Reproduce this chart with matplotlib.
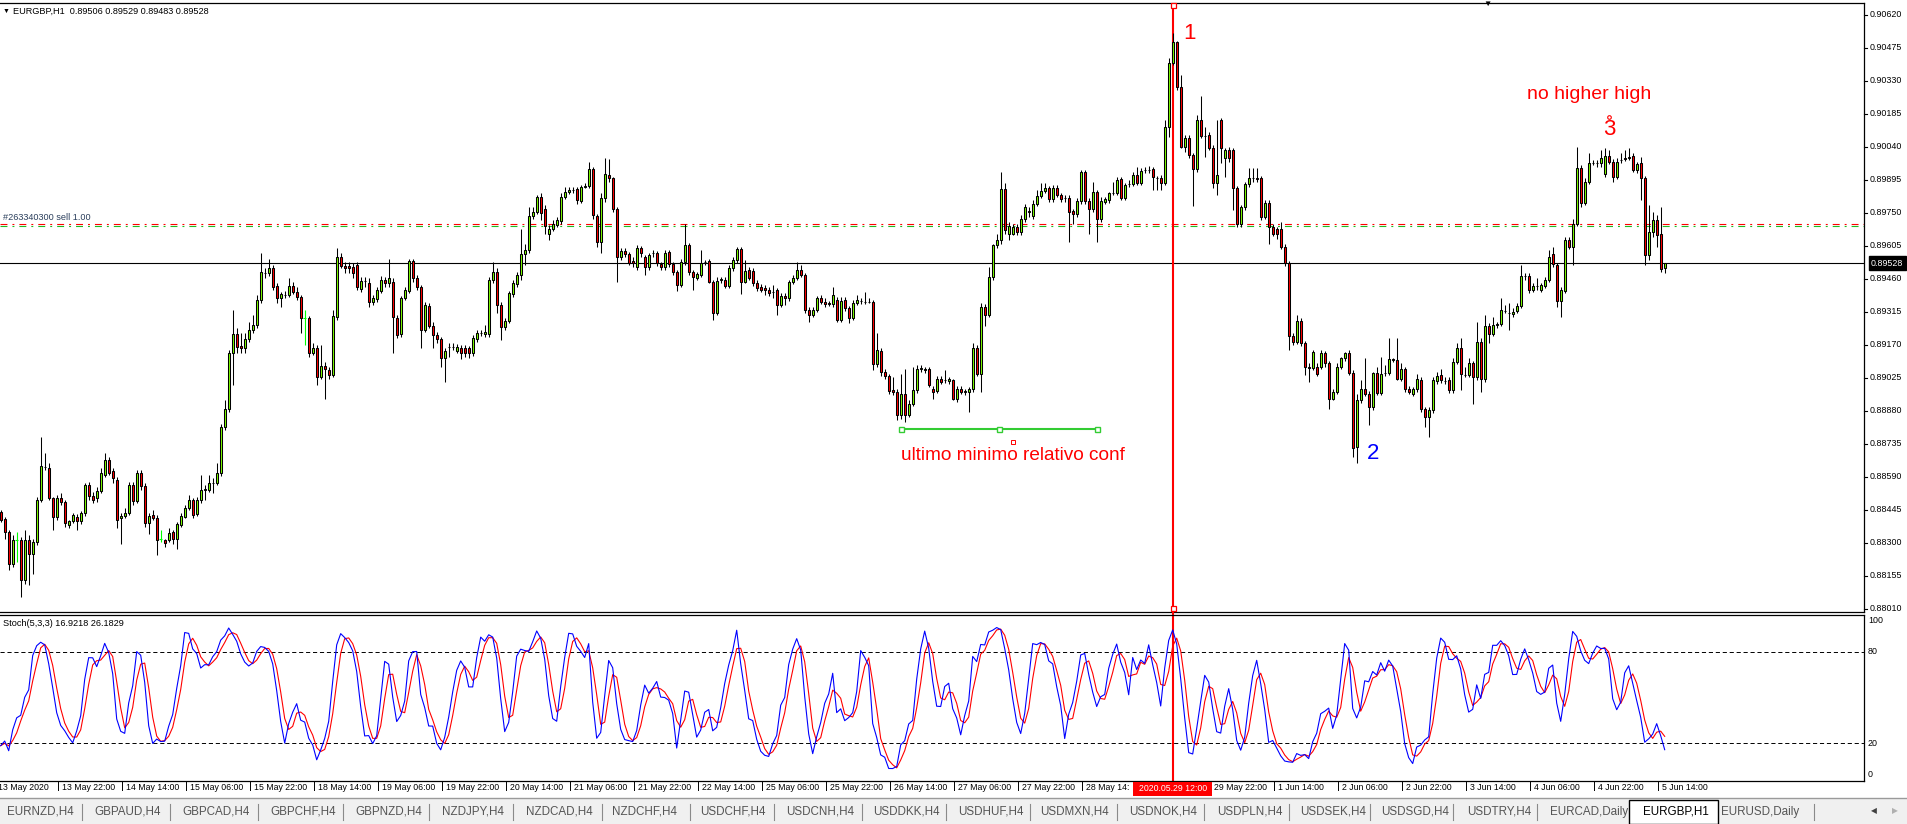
import numpy as np
import pandas as pd
import matplotlib
matplotlib.use("Agg")
import matplotlib.pyplot as plt
import matplotlib.transforms as mtrans
from matplotlib.patches import Rectangle
from matplotlib.lines import Line2D

plt.rcParams["font.family"] = ["Liberation Sans", "DejaVu Sans"]
plt.rcParams["lines.scale_dashes"] = False

# ---------------- EURGBP H1 candles, 13 May 07:00 .. 5 Jun 15:00 ----------------
opens = [
 0.88435,0.88403,0.88347,0.88208,0.88311,0.88311,0.88135,0.88311,0.88252,0.88303,
 0.88489,0.88633,0.88626,0.88494,0.88413,0.88494,0.88479,0.88376,0.88394,0.88413,
 0.88396,0.88428,0.88552,0.88504,0.88494,0.88526,0.88599,0.88665,0.88614,0.88577,
 0.88406,0.88419,0.88431,0.88552,0.88484,0.88608,0.88548,0.88384,0.88420,0.88410,
 0.88314,0.88311,0.88311,0.88347,0.88315,0.88376,0.88413,0.88454,0.88486,0.88425,
 0.88486,0.88533,0.88533,0.88563,0.88563,0.88604,0.88806,0.88889,0.89131,0.89215,
 0.89163,0.89153,0.89193,0.89234,0.89256,0.89365,0.89483,0.89483,0.89505,0.89428,
 0.89373,0.89387,0.89387,0.89428,0.89402,0.89377,0.89285,0.89285,0.89135,0.89157,
 0.89028,0.89077,0.89058,0.89036,0.89292,0.89553,0.89516,0.89515,0.89512,0.89518,
 0.89415,0.89449,0.89442,0.89358,0.89371,0.89406,0.89456,0.89439,0.89446,0.89289,
 0.89215,0.89373,0.89406,0.89538,0.89461,0.89424,0.89236,0.89339,0.89253,0.89212,
 0.89193,0.89113,0.89160,0.89160,0.89143,0.89157,0.89157,0.89157,0.89131,0.89193,
 0.89219,0.89216,0.89216,0.89453,0.89490,0.89343,0.89248,0.89275,0.89392,0.89436,
 0.89475,0.89566,0.89585,0.89735,0.89754,0.89817,0.89765,0.89658,0.89680,0.89695,
 0.89714,0.89820,0.89839,0.89849,0.89852,0.89802,0.89861,0.89868,0.89941,0.89735,
 0.89622,0.89812,0.89915,0.89900,0.89764,0.89556,0.89581,0.89566,0.89538,0.89512,
 0.89593,0.89553,0.89512,0.89571,0.89571,0.89524,0.89512,0.89575,0.89524,0.89487,
 0.89431,0.89534,0.89606,0.89487,0.89461,0.89475,0.89534,0.89537,0.89446,0.89310,
 0.89456,0.89456,0.89428,0.89505,0.89541,0.89588,0.89446,0.89497,0.89494,0.89439,
 0.89424,0.89417,0.89409,0.89402,0.89409,0.89343,0.89383,0.89373,0.89443,0.89461,
 0.89500,0.89475,0.89324,0.89302,0.89324,0.89373,0.89358,0.89351,0.89348,0.89365,
 0.89280,0.89365,0.89329,0.89285,0.89354,0.89361,0.89358,0.89358,0.89358,0.89083,
 0.89141,0.89050,0.89031,0.88970,0.88963,0.88860,0.88955,0.88860,0.88911,0.88970,
 0.89065,0.89058,0.89065,0.88977,0.88967,0.89021,0.89014,0.89011,0.89014,0.88929,
 0.88977,0.88963,0.88960,0.88973,0.89157,0.89043,0.89336,0.89302,0.89468,0.89606,
 0.89629,0.89852,0.89658,0.89658,0.89688,0.89663,0.89723,0.89754,0.89735,0.89790,
 0.89823,0.89846,0.89856,0.89808,0.89856,0.89827,0.89812,0.89815,0.89757,0.89742,
 0.89802,0.89928,0.89802,0.89764,0.89839,0.89720,0.89798,0.89805,0.89837,0.89837,
 0.89896,0.89812,0.89875,0.89875,0.89915,0.89878,0.89937,0.89937,0.89941,0.89900,
 0.89900,0.89881,0.90124,0.90408,0.90498,0.90303,0.90039,0.90080,0.90003,0.89940,
 0.90159,0.90088,0.90091,0.90036,0.89878,0.90157,0.89988,0.90025,0.90025,0.89856,
 0.89699,0.89773,0.89875,0.89900,0.89900,0.89900,0.89729,0.89793,0.89688,0.89676,
 0.89676,0.89600,0.89527,0.89207,0.89182,0.89275,0.89175,0.89072,0.89068,0.89072,
 0.89072,0.89131,0.89087,0.88929,0.88963,0.89072,0.89109,0.89134,0.89046,0.88718,
 0.88926,0.88973,0.88955,0.88894,0.89046,0.88958,0.89046,0.89046,0.89105,0.89102,
 0.89021,0.89061,0.88977,0.88952,0.88973,0.89014,0.88885,0.88853,0.88882,0.89009,
 0.89036,0.89011,0.89014,0.88970,0.89094,0.89157,0.89036,0.89036,0.89087,0.89026,
 0.89182,0.89021,0.89251,0.89216,0.89258,0.89260,0.89318,0.89310,0.89304,0.89318,
 0.89339,0.89471,0.89471,0.89412,0.89427,0.89412,0.89427,0.89456,0.89566,0.89519,
 0.89362,0.89406,0.89629,0.89600,0.89702,0.89948,0.89793,0.89885,0.89969,0.89969,
 0.89966,0.89919,0.89998,0.89973,0.89907,0.89981,0.89988,0.89992,0.89998,0.89937,
 0.89966,0.89900,0.89562,0.89664,0.89717,0.89655,0.89506]
highs = [
 0.88445,0.88413,0.88357,0.88333,0.88347,0.88325,0.88355,0.88333,0.88318,0.88501,
 0.88765,0.88692,0.88651,0.88501,0.88508,0.88519,0.88486,0.88401,0.88431,0.88425,
 0.88439,0.88563,0.88567,0.88523,0.88545,0.88626,0.88692,0.88677,0.88626,0.88589,
 0.88428,0.88450,0.88567,0.88567,0.88618,0.88618,0.88560,0.88428,0.88443,0.88420,
 0.88355,0.88318,0.88362,0.88357,0.88391,0.88431,0.88464,0.88508,0.88498,0.88501,
 0.88596,0.88552,0.88596,0.88582,0.88648,0.88820,0.88926,0.89146,0.89321,0.89241,
 0.89219,0.89219,0.89270,0.89300,0.89387,0.89571,0.89505,0.89548,0.89519,0.89439,
 0.89402,0.89406,0.89461,0.89446,0.89424,0.89387,0.89321,0.89295,0.89175,0.89168,
 0.89168,0.89094,0.89072,0.89321,0.89593,0.89571,0.89534,0.89534,0.89527,0.89534,
 0.89468,0.89468,0.89461,0.89387,0.89424,0.89471,0.89468,0.89548,0.89461,0.89300,
 0.89383,0.89424,0.89548,0.89548,0.89475,0.89431,0.89358,0.89351,0.89270,0.89226,
 0.89204,0.89153,0.89178,0.89178,0.89172,0.89168,0.89168,0.89163,0.89212,0.89234,
 0.89234,0.89256,0.89468,0.89534,0.89505,0.89358,0.89285,0.89406,0.89453,0.89490,
 0.89680,0.89614,0.89776,0.89776,0.89827,0.89834,0.89783,0.89695,0.89717,0.89732,
 0.89834,0.89864,0.89864,0.89861,0.89864,0.89871,0.89878,0.89973,0.89951,0.89746,
 0.89834,0.89988,0.89984,0.89907,0.89776,0.89593,0.89593,0.89578,0.89553,0.89607,
 0.89603,0.89563,0.89573,0.89585,0.89582,0.89534,0.89585,0.89585,0.89534,0.89497,
 0.89548,0.89699,0.89617,0.89497,0.89490,0.89585,0.89541,0.89548,0.89453,0.89468,
 0.89468,0.89468,0.89519,0.89556,0.89600,0.89597,0.89541,0.89509,0.89505,0.89453,
 0.89436,0.89431,0.89421,0.89431,0.89417,0.89395,0.89395,0.89456,0.89475,0.89534,
 0.89519,0.89486,0.89336,0.89336,0.89383,0.89387,0.89373,0.89362,0.89424,0.89377,
 0.89377,0.89377,0.89339,0.89365,0.89387,0.89373,0.89402,0.89373,0.89368,0.89219,
 0.89153,0.89061,0.89043,0.89028,0.88973,0.89043,0.89065,0.88926,0.89072,0.89080,
 0.89080,0.89072,0.89072,0.88987,0.89031,0.89031,0.89058,0.89026,0.89021,0.88987,
 0.88987,0.88977,0.88985,0.89175,0.89168,0.89351,0.89348,0.89512,0.89614,0.89658,
 0.89929,0.89878,0.89710,0.89699,0.89699,0.89739,0.89790,0.89776,0.89805,0.89849,
 0.89878,0.89878,0.89866,0.89871,0.89871,0.89837,0.89827,0.89827,0.89768,0.89812,
 0.89937,0.89937,0.89812,0.89885,0.89849,0.89820,0.89820,0.89842,0.89885,0.89907,
 0.89907,0.89881,0.89893,0.89929,0.89951,0.89944,0.89951,0.89954,0.89951,0.89910,
 0.89915,0.90157,0.90428,0.90537,0.90505,0.90354,0.90091,0.90091,0.90013,0.90181,
 0.90262,0.90124,0.90105,0.90047,0.90157,0.90164,0.90032,0.90039,0.90032,0.89866,
 0.89783,0.89885,0.89944,0.89944,0.89944,0.89910,0.89805,0.89805,0.89699,0.89688,
 0.89710,0.89612,0.89538,0.89219,0.89300,0.89285,0.89187,0.89087,0.89146,0.89087,
 0.89146,0.89143,0.89099,0.88977,0.89087,0.89116,0.89138,0.89146,0.89058,0.88955,
 0.89014,0.89109,0.88967,0.89050,0.89072,0.89116,0.89080,0.89197,0.89109,0.89197,
 0.89087,0.89072,0.88987,0.88985,0.89040,0.89026,0.88897,0.88894,0.89026,0.89050,
 0.89065,0.89028,0.89026,0.89109,0.89175,0.89197,0.89072,0.89109,0.89099,0.89270,
 0.89197,0.89300,0.89263,0.89292,0.89270,0.89373,0.89343,0.89351,0.89329,0.89351,
 0.89519,0.89483,0.89483,0.89439,0.89461,0.89442,0.89468,0.89585,0.89600,0.89530,
 0.89424,0.89644,0.89641,0.89720,0.90039,0.89959,0.89900,0.90010,0.89981,0.89981,
 0.90025,0.90032,0.90025,0.89984,0.89988,0.90010,0.90025,0.90032,0.90010,0.89973,
 0.89995,0.89910,0.89783,0.89754,0.89739,0.89776,0.89529]
lows = [
 0.88391,0.88318,0.88179,0.88193,0.88215,0.88059,0.88120,0.88113,0.88164,0.88289,
 0.88479,0.88618,0.88486,0.88357,0.88401,0.88464,0.88369,0.88362,0.88384,0.88355,
 0.88381,0.88416,0.88486,0.88472,0.88479,0.88516,0.88589,0.88596,0.88560,0.88366,
 0.88296,0.88406,0.88420,0.88464,0.88472,0.88533,0.88369,0.88340,0.88398,0.88245,
 0.88303,0.88281,0.88303,0.88296,0.88274,0.88369,0.88406,0.88443,0.88410,0.88416,
 0.88475,0.88486,0.88523,0.88516,0.88552,0.88592,0.88794,0.88875,0.88992,0.89131,
 0.89131,0.89134,0.89182,0.89219,0.89241,0.89351,0.89461,0.89471,0.89409,0.89351,
 0.89336,0.89373,0.89377,0.89392,0.89365,0.89219,0.89168,0.89116,0.89124,0.88992,
 0.89017,0.88929,0.89021,0.89026,0.89278,0.89505,0.89483,0.89483,0.89461,0.89409,
 0.89402,0.89424,0.89336,0.89343,0.89358,0.89395,0.89424,0.89424,0.89134,0.89197,
 0.89204,0.89365,0.89395,0.89446,0.89409,0.89153,0.89226,0.89241,0.89153,0.89178,
 0.89072,0.89006,0.89116,0.89146,0.89131,0.89105,0.89116,0.89109,0.89119,0.89182,
 0.89207,0.89204,0.89204,0.89439,0.89307,0.89190,0.89236,0.89263,0.89380,0.89424,
 0.89453,0.89519,0.89571,0.89720,0.89743,0.89717,0.89658,0.89629,0.89670,0.89688,
 0.89702,0.89808,0.89831,0.89837,0.89790,0.89793,0.89856,0.89856,0.89724,0.89600,
 0.89571,0.89798,0.89885,0.89754,0.89446,0.89541,0.89553,0.89519,0.89512,0.89500,
 0.89556,0.89475,0.89500,0.89553,0.89515,0.89497,0.89500,0.89512,0.89475,0.89406,
 0.89424,0.89519,0.89475,0.89409,0.89453,0.89465,0.89519,0.89439,0.89278,0.89300,
 0.89439,0.89417,0.89417,0.89494,0.89530,0.89392,0.89439,0.89453,0.89427,0.89406,
 0.89402,0.89387,0.89383,0.89373,0.89300,0.89336,0.89343,0.89362,0.89436,0.89453,
 0.89465,0.89310,0.89270,0.89292,0.89314,0.89348,0.89336,0.89339,0.89336,0.89270,
 0.89270,0.89318,0.89263,0.89278,0.89343,0.89348,0.89348,0.89351,0.89058,0.89072,
 0.89031,0.89021,0.88955,0.88948,0.88838,0.88841,0.88831,0.88850,0.88900,0.88958,
 0.89050,0.89046,0.88985,0.88933,0.88958,0.88996,0.89002,0.88999,0.88926,0.88919,
 0.88952,0.88948,0.88875,0.88963,0.89031,0.88963,0.89251,0.89292,0.89456,0.89593,
 0.89614,0.89658,0.89629,0.89651,0.89651,0.89651,0.89710,0.89732,0.89724,0.89779,
 0.89812,0.89834,0.89798,0.89798,0.89820,0.89798,0.89798,0.89622,0.89702,0.89732,
 0.89790,0.89790,0.89658,0.89754,0.89622,0.89710,0.89787,0.89793,0.89827,0.89827,
 0.89805,0.89805,0.89864,0.89866,0.89871,0.89871,0.89925,0.89922,0.89849,0.89849,
 0.89849,0.89871,0.90083,0.90398,0.90288,0.90032,0.90017,0.89992,0.89780,0.89929,
 0.90076,0.89995,0.90025,0.89856,0.89827,0.89966,0.89907,0.89973,0.89761,0.89688,
 0.89688,0.89761,0.89864,0.89885,0.89885,0.89717,0.89720,0.89614,0.89647,0.89636,
 0.89588,0.89515,0.89146,0.89168,0.89172,0.89163,0.89036,0.89006,0.89058,0.89031,
 0.89061,0.89072,0.88889,0.88926,0.88952,0.89061,0.89099,0.89036,0.88677,0.88648,
 0.88914,0.88944,0.88816,0.88882,0.88948,0.88948,0.89031,0.89036,0.89094,0.89014,
 0.89011,0.88963,0.88952,0.88944,0.88963,0.88875,0.88809,0.88765,0.88870,0.88999,
 0.89002,0.88999,0.88958,0.88958,0.89084,0.88970,0.89026,0.89026,0.88911,0.89014,
 0.88963,0.89006,0.89178,0.89207,0.89241,0.89251,0.89307,0.89234,0.89292,0.89307,
 0.89329,0.89453,0.89395,0.89402,0.89412,0.89402,0.89417,0.89446,0.89512,0.89336,
 0.89292,0.89395,0.89588,0.89519,0.89691,0.89776,0.89783,0.89875,0.89959,0.89951,
 0.89951,0.89907,0.89963,0.89885,0.89896,0.89969,0.89978,0.89981,0.89929,0.89925,
 0.89805,0.89519,0.89541,0.89644,0.89600,0.89490,0.89483]
closes = [
 0.88401,0.88347,0.88208,0.88311,0.88311,0.88135,0.88311,0.88252,0.88303,0.88489,
 0.88636,0.88634,0.88494,0.88413,0.88498,0.88479,0.88387,0.88394,0.88420,0.88396,
 0.88428,0.88552,0.88504,0.88489,0.88526,0.88607,0.88662,0.88607,0.88582,0.88401,
 0.88419,0.88431,0.88552,0.88484,0.88608,0.88548,0.88384,0.88416,0.88410,0.88311,
 0.88314,0.88300,0.88343,0.88314,0.88381,0.88416,0.88454,0.88486,0.88420,0.88489,
 0.88530,0.88534,0.88563,0.88562,0.88607,0.88809,0.88889,0.89131,0.89215,0.89160,
 0.89153,0.89193,0.89234,0.89256,0.89368,0.89490,0.89484,0.89505,0.89424,0.89373,
 0.89392,0.89388,0.89428,0.89402,0.89377,0.89285,0.89285,0.89135,0.89157,0.89028,
 0.89077,0.89061,0.89036,0.89297,0.89553,0.89515,0.89505,0.89505,0.89486,0.89421,
 0.89450,0.89448,0.89358,0.89373,0.89409,0.89456,0.89439,0.89461,0.89292,0.89212,
 0.89373,0.89409,0.89538,0.89461,0.89424,0.89236,0.89342,0.89253,0.89212,0.89193,
 0.89113,0.89143,0.89161,0.89159,0.89160,0.89135,0.89131,0.89131,0.89197,0.89222,
 0.89223,0.89226,0.89453,0.89490,0.89343,0.89248,0.89275,0.89395,0.89439,0.89475,
 0.89566,0.89585,0.89735,0.89754,0.89817,0.89749,0.89691,0.89680,0.89702,0.89717,
 0.89820,0.89842,0.89849,0.89850,0.89805,0.89861,0.89868,0.89941,0.89739,0.89622,
 0.89812,0.89918,0.89900,0.89764,0.89556,0.89581,0.89566,0.89527,0.89527,0.89593,
 0.89571,0.89512,0.89563,0.89572,0.89527,0.89512,0.89571,0.89524,0.89487,0.89431,
 0.89534,0.89606,0.89487,0.89465,0.89480,0.89530,0.89535,0.89446,0.89310,0.89450,
 0.89457,0.89428,0.89505,0.89541,0.89588,0.89446,0.89494,0.89461,0.89439,0.89417,
 0.89412,0.89409,0.89395,0.89403,0.89343,0.89383,0.89373,0.89443,0.89461,0.89500,
 0.89475,0.89324,0.89302,0.89324,0.89373,0.89358,0.89348,0.89350,0.89390,0.89280,
 0.89362,0.89329,0.89285,0.89354,0.89365,0.89362,0.89357,0.89359,0.89083,0.89146,
 0.89050,0.89031,0.88967,0.88963,0.88860,0.88955,0.88860,0.88911,0.88970,0.89061,
 0.89066,0.89065,0.88992,0.88963,0.89021,0.89006,0.89015,0.89017,0.88929,0.88977,
 0.88963,0.88964,0.88973,0.89157,0.89043,0.89336,0.89302,0.89468,0.89606,0.89629,
 0.89852,0.89673,0.89691,0.89688,0.89663,0.89723,0.89773,0.89755,0.89790,0.89823,
 0.89846,0.89856,0.89808,0.89856,0.89827,0.89808,0.89813,0.89754,0.89742,0.89802,
 0.89928,0.89802,0.89764,0.89839,0.89720,0.89802,0.89808,0.89837,0.89838,0.89893,
 0.89812,0.89871,0.89876,0.89915,0.89878,0.89932,0.89938,0.89936,0.89905,0.89901,
 0.89881,0.90124,0.90408,0.90498,0.90303,0.90039,0.90080,0.90003,0.89940,0.90159,
 0.90086,0.90087,0.90036,0.89878,0.89915,0.90032,0.90025,0.89988,0.89856,0.89699,
 0.89773,0.89875,0.89900,0.89901,0.89899,0.89729,0.89793,0.89688,0.89658,0.89658,
 0.89600,0.89527,0.89207,0.89182,0.89275,0.89175,0.89072,0.89068,0.89138,0.89043,
 0.89134,0.89087,0.88929,0.88963,0.89072,0.89109,0.89134,0.89046,0.88714,0.88926,
 0.88973,0.88955,0.88894,0.89046,0.88958,0.89043,0.89047,0.89105,0.89104,0.89021,
 0.89061,0.88973,0.88963,0.88973,0.89017,0.88885,0.88853,0.88882,0.89014,0.89031,
 0.89014,0.89012,0.88970,0.89094,0.89157,0.89040,0.89037,0.89087,0.89026,0.89182,
 0.89021,0.89251,0.89216,0.89256,0.89259,0.89324,0.89319,0.89311,0.89314,0.89339,
 0.89471,0.89472,0.89412,0.89427,0.89428,0.89431,0.89456,0.89553,0.89524,0.89362,
 0.89409,0.89629,0.89600,0.89702,0.89948,0.89793,0.89885,0.89970,0.89970,0.89968,
 0.89988,0.89998,0.89973,0.89907,0.89973,0.89982,0.89987,0.89993,0.89937,0.89963,
 0.89900,0.89562,0.89664,0.89717,0.89651,0.89503,0.89528]

price_ticks = [0.90620, 0.90475, 0.90330, 0.90185, 0.90040, 0.89895, 0.89750,
               0.89605, 0.89460, 0.89315, 0.89170, 0.89025, 0.88880, 0.88735,
               0.88590, 0.88445, 0.88300, 0.88155, 0.88010]
stoch_ticks = [100, 80, 20, 0]
stoch_levels = [80, 20]
bid_price = 0.89528
order_red = 0.89700
order_green = 0.89691
support_price = 0.88797
support_from, support_to = "2020-05-26 16:00", "2020-05-28 17:00"
vline_time = "2020-05-29 12:00"
header_txt = "EURGBP,H1  0.89506 0.89529 0.89483 0.89528"
stoch_txt = "Stoch(5,3,3) 16.9218 26.1829"
order_txt = "#263340300 sell 1.00"
tabs = ["EURNZD,H4", "GBPAUD,H4", "GBPCAD,H4", "GBPCHF,H4", "GBPNZD,H4",
        "NZDJPY,H4", "NZDCAD,H4", "NZDCHF,H4", "USDCHF,H4", "USDCNH,H4",
        "USDDKK,H4", "USDHUF,H4", "USDMXN,H4", "USDNOK,H4", "USDPLN,H4",
        "USDSEK,H4", "USDSGD,H4", "USDTRY,H4", "EURCAD,Daily", "EURGBP,H1",
        "EURUSD,Daily"]
active_tab = "EURGBP,H1"

# ---------------- prep ----------------
times = pd.date_range("2020-05-13 07:00", "2020-06-05 15:00", freq="h")
times = times[times.dayofweek < 5]
O, Hh, L, C = map(np.array, (opens, highs, lows, closes))
N = len(C)
x = np.arange(N)
pos = {t: i for i, t in enumerate(times)}

# Stochastic(5,3,3) on Low/High, SMA
lo5 = pd.Series(L).rolling(5, min_periods=1).min()
hi5 = pd.Series(Hh).rolling(5, min_periods=1).max()
num = (pd.Series(C) - lo5).rolling(3, min_periods=1).sum()
den = (hi5 - lo5).rolling(3, min_periods=1).sum()
k_line = 100 * num / den
d_line = k_line.rolling(3, min_periods=1).mean()

# ---------------- layout (pixel based, 1908x824) ----------------
W, HP = 1908, 824
fig = plt.figure(figsize=(W / 100, HP / 100), dpi=100)
fig.patch.set_facecolor("white")
fx = lambda p: p / W
fy = lambda p: 1 - p / HP
RIGHT = 1864
MAIN_T, MAIN_B = 3, 612
ST_T, ST_B = 615, 781

ax = fig.add_axes([0, fy(MAIN_B), fx(RIGHT), (MAIN_B - MAIN_T) / HP])
ax2 = fig.add_axes([0, fy(ST_B), fx(RIGHT), (ST_B - ST_T) / HP])

px_per_bar = 4.0
x0 = -0.7 / px_per_bar
xlim = (x0, x0 + RIGHT / px_per_bar)
for a in (ax, ax2):
    a.set_xlim(*xlim)
    a.set_xticks([])
    a.set_yticks([])
    a.spines["left"].set_visible(False)
    for s in ("top", "right", "bottom"):
        a.spines[s].set_color("black")
        a.spines[s].set_linewidth(0.9)

ax.set_ylim(0.879951, 0.906710)
ax2.set_ylim(-4.575, 103.92)

# ---------------- candles ----------------
bull = C > O
bear = C < O
doji = C == O
ax.vlines(x[~doji], L[~doji], Hh[~doji], color="black", lw=0.75, zorder=3)
ax.bar(x[bull], (C - O)[bull], bottom=O[bull], width=0.5, color="#7CFC00",
       edgecolor="black", linewidth=0.75, zorder=4)
ax.bar(x[bear], (O - C)[bear], bottom=C[bear], width=0.5, color="#FF0000",
       edgecolor="black", linewidth=0.75, zorder=4)
ax.vlines(x[doji], L[doji], Hh[doji], color="#00FF00", lw=0.8, zorder=4)
ax.hlines(O[doji], x[doji] - 0.35, x[doji] + 0.35, color="#00FF00", lw=0.8, zorder=4)

# horizontal lines
ax.axhline(bid_price, color="black", lw=0.8, zorder=2)
ax.axhline(order_red, color="#FF0000", lw=0.8, ls=(0, (5, 3.6, 1.4, 3.6)), zorder=2)
ax.axhline(order_green, color="#22BB22", lw=0.8, ls=(0, (5, 3.6, 1.4, 3.6)), zorder=2)

bx = mtrans.blended_transform_factory(ax.transAxes, ax.transData)
ax.text(0.0016, 0.89728, order_txt, transform=bx, fontsize=6.6,
        color="#2b3f5c", va="center", ha="left", zorder=6)

# support segment with anchor squares
s0, s1 = pos[pd.Timestamp(support_from)], pos[pd.Timestamp(support_to)]
ax.plot([s0, s1], [support_price, support_price], color="#33CC33", lw=1.5, zorder=5)
ax.plot([s0, (s0 + s1) / 2, s1], [support_price] * 3, ls="none", marker="s", ms=3.6,
        mfc="white", mec="#33CC33", mew=1.0, zorder=6)

# vertical event line
vx = pos[pd.Timestamp(vline_time)]
ax.axvline(vx, color="#FF0000", lw=1.5, zorder=2)
ax2.axvline(vx, ymin=-0.03, ymax=1.02, color="#FF0000", lw=1.5, zorder=2, clip_on=False)
vt = mtrans.blended_transform_factory(ax.transData, ax.transAxes)
ax.plot([vx, vx], [0.9967, 0.0066], transform=vt, ls="none", marker="s", ms=3.6,
        mfc="white", mec="#FF0000", mew=0.9, zorder=7, clip_on=False)

# annotations
ax.text(297.1, 0.90539, "1", color="#FF0000", fontsize=16, ha="center", va="center", zorder=8)
ax.text(343.2, 0.88692, "2", color="#0000FF", fontsize=16, ha="center", va="center", zorder=8)
ax.text(402.1, 0.90117, "3", color="#FF0000", fontsize=16, ha="center", va="center", zorder=8)
ax.plot([402.1], [0.90170], marker="o", ms=2.6, mfc="white", mec="#FF0000", mew=0.8, zorder=9)
ax.text(397.1, 0.90267, "no higher high", color="#FF0000", fontsize=14, ha="center",
        va="center", zorder=8)
ax.text(253.1, 0.88681, "ultimo minimo relativo conf", color="#FF0000", fontsize=13.7,
        ha="center", va="center", zorder=8)
ax.plot([253.0], [0.88742], marker="s", ms=2.2, mfc="white", mec="#FF0000", mew=0.7, zorder=9)

# right price scale
ty = mtrans.blended_transform_factory(fig.transFigure, ax.transData)
for v in price_ticks:
    ax.plot([fx(RIGHT), fx(RIGHT + 3)], [v, v], transform=ty, color="black", lw=0.8,
            clip_on=False)
    ax.text(fx(1870), v, f"{v:.5f}", transform=ty, fontsize=6.4, ha="left", va="center")
ax.text(fx(1871), bid_price, f"{bid_price:.5f}", transform=ty, fontsize=6.4, ha="left",
        va="center", color="white", zorder=10,
        bbox=dict(boxstyle="square,pad=0.28", fc="black", ec="black"))

# ---------------- stochastic ----------------
ax2.plot(x, d_line, color="#FF0000", lw=0.8, zorder=3)
ax2.plot(x, k_line, color="#0000FF", lw=0.8, zorder=4)
for lv in stoch_levels:
    ax2.axhline(lv, color="black", lw=0.7, ls=(0, (3, 2)), zorder=2)
ty2 = mtrans.blended_transform_factory(fig.transFigure, ax2.transData)
for v in stoch_ticks:
    ax2.text(fx(1868), v, str(v), transform=ty2, fontsize=6.4, ha="left", va="center")

# ---------------- time axis ----------------
tx = mtrans.blended_transform_factory(ax2.transData, fig.transFigure)
lab_w = 79 / px_per_bar            # width of the red time label, in bars
box_l, box_r = vx - lab_w / 2, vx + lab_w / 2
lab_idx = [i for i in range(-1, N) if (i + 1) % 16 == 0]
for i in lab_idx:
    txt = f"{times[0].day} {times[0]:%b %Y}" if i < 0 else f"{times[i].day} {times[i]:%b %H:%M}"
    if box_l - 1 < i < box_r:
        continue                    # hidden under the red time label
    if i < box_l < i + 15:
        txt = txt[:10]              # cut by the red time label
    ax2.plot([i - 0.75, i - 0.75], [fy(ST_B), fy(ST_B + 9)], transform=tx, color="black",
             lw=0.7, clip_on=False)
    ax2.text(i + 0.25, fy(788), txt, transform=tx, fontsize=6.3, ha="left", va="center",
             clip_on=False)
ax2.add_patch(Rectangle((box_l, fy(796)), lab_w, (796 - 781.5) / HP, transform=tx,
                        fc="#FF0000", ec="none", zorder=10, clip_on=False))
ax2.text(vx, fy(788.5), pd.Timestamp(vline_time).strftime("%Y.%m.%d %H:%M"), transform=tx,
         fontsize=6.3, color="white", ha="center", va="center", zorder=11, clip_on=False)

# ---------------- header texts ----------------
fig.text(fx(3), fy(11), "\u25BC", fontsize=5, ha="left", va="center")
fig.text(fx(13), fy(11), header_txt, fontsize=6.6, ha="left", va="center")
fig.text(fx(1487), fy(4), "\u25BC", fontsize=6, ha="center", va="center")
fig.text(fx(3), fy(624), stoch_txt, fontsize=6.6, ha="left", va="center")

# ---------------- tab bar ----------------
fig.add_artist(Rectangle((0, 0), 1, fy(798), transform=fig.transFigure, fc="#F0F0F0",
                         ec="none", zorder=0))
fig.add_artist(Line2D([0, 1], [fy(797.5)] * 2, transform=fig.transFigure, color="#9A9A9A", lw=1))
tab_x = [7, 94, 182, 270, 355, 442, 526, 612, 700, 786, 873, 958, 1040, 1129, 1217,
         1300, 1381, 1467, 1550, 1643, 1721]
for name, tx0 in zip(tabs, tab_x):
    if name == active_tab:
        fig.add_artist(Rectangle((fx(1629), 0), fx(1718) - fx(1629), fy(800),
                                 transform=fig.transFigure, fc="white", ec="black", lw=1.0))
        fig.text(fx(tx0), fy(812), name, fontsize=8.4, color="black", ha="left", va="center")
    else:
        fig.text(fx(tx0), fy(812), name, fontsize=8.4, color="#555555", ha="left", va="center")
for sx in [82, 170, 258, 343, 429, 513, 602, 690, 774, 862, 946, 1030, 1117, 1204, 1289,
           1370, 1453, 1537, 1814]:
    fig.add_artist(Line2D([fx(sx)] * 2, [fy(804), fy(820)], transform=fig.transFigure,
                          color="#8A8A8A", lw=0.8))
fig.text(fx(1874), fy(812), "\u25C0", fontsize=5.5, color="#404040", ha="center", va="center")
fig.text(fx(1895), fy(812), "\u25B6", fontsize=5.5, color="#B0B0B0", ha="center", va="center")

fig.savefig("out.png", dpi=100, facecolor="white")
